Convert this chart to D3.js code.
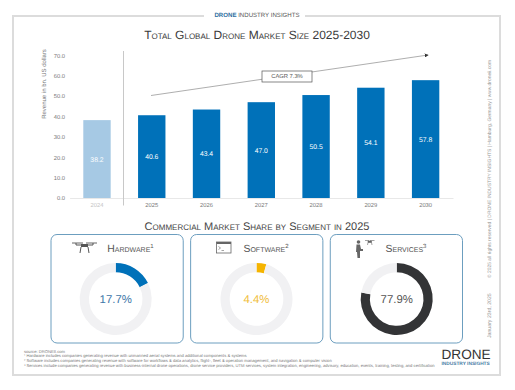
<!DOCTYPE html>
<html>
<head>
<meta charset="utf-8">
<script src="https://cdn.jsdelivr.net/npm/d3@7"></script>
<style>
  html, body { margin: 0; padding: 0; background: #fff; }
  svg { display: block; }
  text { font-family: "Liberation Sans", Arial, sans-serif; text-rendering: geometricPrecision; }
  .caps { font-variant: small-caps; }
</style>
</head>
<body>
<svg id="chart" width="515" height="390"></svg>
<script>
// Values
var years = ['2024', '2025', '2026', '2027', '2028', '2029', '2030'];
var revenue = [38.2, 40.6, 43.4, 47.0, 50.5, 54.1, 57.8];
var yTicks = [0, 10, 20, 30, 40, 50, 60, 70];

var segments = ['Hardware', 'Software', 'Services'];
var segmentShare = [17.7, 4.4, 77.9];
var segmentNotes = ['1', '2', '3'];
var segmentColors = ['#0071b9', '#f5b400', '#333436'];
var segmentTextColors = ['#3d76a8', '#f0bd3a', '#555'];

var footnotes = [
    'source: DRONEII.com',
    '\u00b9 Hardware includes companies generating revenue with unmanned aerial systems and additional components & systems',
    '\u00b2 Software includes companies generating revenue with software for workflows & data analytics, flight-, fleet & operation management, and navigation & computer vision',
    '\u00b3 Services include companies generating revenue with business-internal drone operations, drone service providers, UTM services, system integration, engineering, advisory, education, events, training, testing, and certification'
];

var svg = d3.select('#chart');

// Outer frame with a gap for the header
svg.append('path')
    .attr('d', 'M204,16H13V375H500V16H305')
    .attr('fill', 'none')
    .attr('stroke', '#dcdcdc')
    .attr('stroke-width', 2);

var header = svg.append('text')
    .attr('x', 257).attr('y', 17)
    .attr('text-anchor', 'middle')
    .attr('font-size', 6.1)
    .attr('fill', '#555');
header.append('tspan').attr('font-weight', 'bold').attr('fill', '#2f6f9f').text('DRONE');
header.append('tspan').text(' INDUSTRY INSIGHTS');

svg.append('text')
    .attr('class', 'caps')
    .attr('x', 257).attr('y', 39)
    .attr('text-anchor', 'middle')
    .attr('font-size', 12)
    .attr('fill', '#3a3a3a')
    .text('Total Global Drone Market Size 2025-2030');

// Scales
var x = d3.scaleBand().domain(years).range([69.6, 453]).paddingInner(0.5).paddingOuter(0.25);
var y = d3.scaleLinear().domain([0, 70]).range([198, 55.3]);

// Axes
var yAxis = svg.append('g')
    .attr('transform', 'translate(68,0)')
    .call(d3.axisLeft(y).tickValues(yTicks).tickFormat(d3.format('.1f')).tickSize(0).tickPadding(3));
yAxis.select('.domain').remove();
yAxis.selectAll('text')
    .attr('font-size', 5.8)
    .attr('font-family', '"Liberation Sans", Arial, sans-serif')
    .attr('fill', '#777');

var xAxis = svg.append('g')
    .attr('transform', 'translate(0,198)')
    .call(d3.axisBottom(x).tickSize(0).tickPadding(5));
xAxis.select('.domain').attr('stroke', '#e8e8e8').attr('stroke-width', 1);
xAxis.selectAll('text')
    .attr('font-size', 5.8)
    .attr('font-family', '"Liberation Sans", Arial, sans-serif')
    .attr('fill', function (d) { return d === '2024' ? '#c4c4c4' : '#777'; });

svg.append('text')
    .attr('transform', 'translate(46,84) rotate(-90)')
    .attr('text-anchor', 'middle')
    .attr('font-size', 6)
    .attr('fill', '#777')
    .text('Revenue in bn. US dollars');

// Bars
svg.selectAll('.bar')
    .data(years)
    .enter().append('rect')
    .attr('class', 'bar')
    .attr('x', function (d) { return x(d); })
    .attr('width', x.bandwidth())
    .attr('y', function (d, i) { return y(revenue[i]); })
    .attr('height', function (d, i) { return y(0) - y(revenue[i]); })
    .attr('fill', function (d) { return d === '2024' ? '#a6c9e4' : '#0071b9'; });

svg.selectAll('.bar-label')
    .data(years)
    .enter().append('text')
    .attr('class', 'bar-label')
    .attr('x', function (d) { return x(d) + x.bandwidth() / 2; })
    .attr('y', function (d, i) { return y(revenue[i] / 2) + 2.5; })
    .attr('text-anchor', 'middle')
    .attr('font-size', 6.8)
    .attr('fill', '#fff')
    .text(function (d, i) { return revenue[i].toFixed(1); });

// Separator between 2024 and the forecast
svg.append('line')
    .attr('x1', 123.5).attr('x2', 123.5)
    .attr('y1', 51).attr('y2', 205.5)
    .attr('stroke', '#c8c8c8');

// CAGR arrow and box
svg.append('defs').append('marker')
    .attr('id', 'arrow')
    .attr('viewBox', '0 0 6 6')
    .attr('refX', 5).attr('refY', 3)
    .attr('markerWidth', 5).attr('markerHeight', 5)
    .attr('orient', 'auto')
    .append('path').attr('d', 'M0,0L6,3L0,6Z').attr('fill', '#333');

svg.append('line')
    .attr('x1', 151).attr('y1', 95.5)
    .attr('x2', 428).attr('y2', 55)
    .attr('stroke', '#999')
    .attr('stroke-width', 0.8)
    .attr('marker-end', 'url(#arrow)');

svg.append('rect')
    .attr('x', 262).attr('y', 71)
    .attr('width', 50).attr('height', 11)
    .attr('fill', '#fff')
    .attr('stroke', '#555')
    .attr('stroke-width', 0.7);

svg.append('text')
    .attr('x', 287).attr('y', 78.4)
    .attr('text-anchor', 'middle')
    .attr('font-size', 5.8)
    .attr('fill', '#555')
    .text('CAGR 7.3%');

// Lower section
svg.append('text')
    .attr('class', 'caps')
    .attr('x', 257).attr('y', 229.5)
    .attr('text-anchor', 'middle')
    .attr('font-size', 11)
    .attr('fill', '#444')
    .text('Commercial Market Share by Segment in 2025');

var panelX = d3.scaleBand().domain(segments).range([51, 462.5]).paddingInner(0.053);
var arc = d3.arc().innerRadius(26.8).outerRadius(36);
var pie = d3.pie().sort(null);
var titleX = [130.5, 266, 406];
var donutX = [115.7, 256.5, 396.7];

var panels = svg.selectAll('.panel')
    .data(segments)
    .enter().append('g')
    .attr('class', 'panel');

panels.append('rect')
    .attr('x', function (d) { return panelX(d); })
    .attr('y', 234.5)
    .attr('width', panelX.bandwidth())
    .attr('height', 108.5)
    .attr('rx', 6)
    .attr('fill', '#fff')
    .attr('stroke', '#5b93b8')
    .attr('stroke-width', 0.9);

var panelTitles = panels.append('text')
    .attr('class', 'caps')
    .attr('x', function (d, i) { return titleX[i]; })
    .attr('y', 251.5)
    .attr('text-anchor', 'middle')
    .attr('font-size', 10.4)
    .attr('fill', '#555');
panelTitles.append('tspan').text(function (d) { return d; });
panelTitles.append('tspan')
    .attr('dy', -3.5)
    .attr('font-size', 6)
    .text(function (d, i) { return segmentNotes[i]; });

panels.each(function (d, i) {
    var g = d3.select(this).append('g').attr('transform', 'translate(' + donutX[i] + ',299)');
    g.selectAll('path')
        .data(pie([segmentShare[i], 100 - segmentShare[i]]))
        .enter().append('path')
        .attr('d', arc)
        .attr('fill', function (s, k) { return k === 0 ? segmentColors[i] : '#f1f1f3'; });
    g.append('text')
        .attr('y', 4)
        .attr('text-anchor', 'middle')
        .attr('font-size', 11.4)
        .attr('fill', segmentTextColors[i])
        .text(segmentShare[i].toFixed(1) + '%');
});

// Icons
var drone = svg.append('g').attr('fill', '#555').attr('stroke', '#555');
drone.append('path').attr('d', 'M72,243H83M86,243H97').attr('stroke-width', 0.9);
drone.append('path').attr('d', 'M76,243V245H93V243').attr('fill', 'none').attr('stroke-width', 1);
drone.append('rect').attr('x', 81).attr('y', 244).attr('width', 7).attr('height', 3).attr('stroke', 'none');
drone.append('path').attr('d', 'M81,247L80,253M88,247L89,253').attr('stroke-width', 1);

var term = svg.append('g');
term.append('rect').attr('x', 216.5).attr('y', 242).attr('width', 14.5).attr('height', 11)
    .attr('fill', '#fff').attr('stroke', '#666').attr('stroke-width', 0.8);
term.append('rect').attr('x', 216.5).attr('y', 242).attr('width', 14.5).attr('height', 2).attr('fill', '#666');
term.append('path').attr('d', 'M218.5,246.5L220.5,248L218.5,249.5M221.5,250.5H224')
    .attr('fill', 'none').attr('stroke', '#666').attr('stroke-width', 0.6);

var pilot = svg.append('g').attr('fill', '#666');
pilot.append('circle').attr('cx', 358.5).attr('cy', 242).attr('r', 1.8);
pilot.append('path').attr('d', 'M356.5,244.5H360L361,249H363V251H360L360,258H357.5L357,252H356Z');
pilot.append('path').attr('d', 'M365,240.5H369M370,240.5H374.5M368,241H371.5V242.5H368ZM368,242.5L367.5,245M371.5,242.5L372,245')
    .attr('stroke', '#666').attr('stroke-width', 0.6);

// Footnotes
svg.selectAll('.note')
    .data(footnotes)
    .enter().append('text')
    .attr('class', 'note')
    .attr('x', 24)
    .attr('y', function (d, i) { return 352.5 + i * 4.95; })
    .attr('font-size', 4.15)
    .attr('fill', '#777')
    .text(function (d) { return d; });

// Logo
svg.append('text')
    .attr('x', 441.5).attr('y', 359)
    .attr('font-size', 13.6)
    .attr('fill', '#333')
    .text('DRONE');
svg.append('text')
    .attr('x', 441.5).attr('y', 365)
    .attr('font-size', 4.8)
    .attr('font-weight', 'bold')
    .attr('fill', '#4a7ea6')
    .text('INDUSTRY INSIGHTS');

// Vertical side text
svg.append('text')
    .attr('transform', 'translate(491,278) rotate(-90)')
    .attr('font-size', 4.95)
    .attr('fill', '#999')
    .text('\u00a9 2025 all rights reserved  |  DRONE INDUSTRY INSIGHTS  |  Hamburg, Germany  |  www.droneii.com');
svg.append('text')
    .attr('transform', 'translate(491,338) rotate(-90)')
    .attr('font-size', 5.2)
    .attr('fill', '#999')
    .text('January 23rd, 2025');
</script>
</body>
</html>
